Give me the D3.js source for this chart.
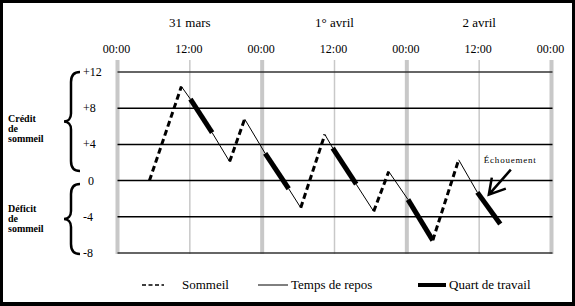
<!DOCTYPE html>
<html>
<head>
<meta charset="utf-8">
<script src="https://cdn.jsdelivr.net/npm/d3@7"></script>
<style>
  body { margin: 0; background: #fff; }
  text { font-family: "Liberation Serif", "Times New Roman", "DejaVu Serif", serif; }
</style>
</head>
<body>
<div id="chart"></div>
<script>
// hours since 31 mars 00:00 and sleep credit at each turning point
const times  = [5.3, 10.6, 12.1, 15.7, 18.6, 21.1, 24.5, 28.4, 30.4, 34.4, 35.7, 39.6, 42.5, 45.0, 48.2, 52.3, 56.6, 59.7, 63.5];
const credit = [0, 10.4, 9.0, 5.3, 2.1, 6.8, 3.0, -0.9, -3.0, 5.1, 3.6, -0.4, -3.4, 1.0, -2.1, -6.6, 2.3, -1.3, -4.8];
// phase of the segment starting at each point
const phases = ["sommeil", "repos", "travail", "repos", "sommeil", "repos", "travail", "repos", "sommeil",
                "repos", "travail", "repos", "sommeil", "repos", "travail", "sommeil", "repos", "travail"];

const hourTicks = [0, 12, 24, 36, 48, 60, 72];
const hourLabels = ["00:00", "12:00", "00:00", "12:00", "00:00", "12:00", "00:00"];
const dayTicks = [12, 36, 60];
const dayLabels = ["31 mars", "1° avril", "2 avril"];
const yTicks = [12, 8, 4, 0, -4, -8];
const yLabels = ["+12", "+8", "+4", "0", "-4", "-8"];

const legendKeys = ["sommeil", "repos", "travail"];
const legendLabels = ["Sommeil", "Temps de repos", "Quart de travail"];

const failure = {label: "Échouement", t: 61.6, v: -1.55};

const width = 575, height = 306;
const serif = "'Liberation Serif', 'Times New Roman', serif";

const x = d3.scaleLinear().domain([0, 72]).range([117.5, 551.5]);
const y = d3.scaleLinear().domain([-8, 12]).range([253, 72]);

const style = {
    sommeil: {w: 3, dash: "6,3.5"},
    repos:   {w: 1, dash: null},
    travail: {w: 5, dash: null}
};

const svg = d3.select("#chart").append("svg")
    .attr("width", width).attr("height", height)
    .attr("font-family", serif);

svg.append("rect").attr("x", 1.5).attr("y", 1.5)
    .attr("width", width - 3).attr("height", height - 4)
    .attr("fill", "#fff").attr("stroke", "#000").attr("stroke-width", 3);
svg.append("rect").attr("x", 0).attr("y", 302).attr("width", width).attr("height", 4).attr("fill", "#000");

// vertical gray lines
svg.append("g").selectAll("line")
    .data(hourTicks).enter().append("line")
    .attr("x1", d => x(d)).attr("x2", d => x(d))
    .attr("y1", 60).attr("y2", 254)
    .attr("stroke", "#c8c8c8")
    .attr("stroke-width", d => d % 24 === 0 ? 4 : 1.5);

// horizontal lines
svg.append("g").selectAll("line")
    .data(yTicks).enter().append("line")
    .attr("x1", x(0)).attr("x2", x(72) + 1)
    .attr("y1", d => y(d)).attr("y2", d => y(d))
    .attr("stroke", d => d === 12 || d === -8 ? "#333" : "#000")
    .attr("stroke-width", 1.5);

// top labels
svg.append("g").selectAll("text")
    .data(dayTicks).enter().append("text")
    .attr("x", d => x(d)).attr("y", 27)
    .attr("text-anchor", "middle").attr("font-size", 13)
    .text((d, i) => dayLabels[i]);

svg.append("g").selectAll("text")
    .data(hourTicks).enter().append("text")
    .attr("x", d => x(d) - 1).attr("y", 53)
    .attr("text-anchor", "middle").attr("font-size", 12)
    .text((d, i) => hourLabels[i]);

// y labels
svg.append("g").selectAll("text")
    .data(yTicks).enter().append("text")
    .attr("x", d => d === 0 ? 91 : 83)
    .attr("y", d => y(d) + 4)
    .attr("text-anchor", d => d === 0 ? "middle" : "start")
    .attr("font-size", 12)
    .text((d, i) => yLabels[i]);

// braces
function brace(y0, y1) {
    const ym = (y0 + y1) / 2;
    return `M80,${y0} C73,${y0} 71,${y0 + 4} 71,${y0 + 10} L71,${ym - 8} C71,${ym - 3} 68,${ym} 64,${ym}`
         + ` C68,${ym} 71,${ym + 3} 71,${ym + 8} L71,${y1 - 10} C71,${y1 - 4} 73,${y1} 80,${y1}`;
}
svg.append("path").attr("d", brace(72, 171))
    .attr("fill", "none").attr("stroke", "#000").attr("stroke-width", 2.5);
svg.append("path").attr("d", brace(184, 254))
    .attr("fill", "none").attr("stroke", "#000").attr("stroke-width", 2.5);

const sideText = [["Crédit", "de", "sommeil"], ["Déficit", "de", "sommeil"]];
[122, 212].forEach(function(base, k) {
    svg.append("g").selectAll("text")
        .data(sideText[k]).enter().append("text")
        .attr("x", 8).attr("y", (d, i) => base + i * 10)
        .attr("font-size", 10).attr("font-weight", "bold")
        .text(d => d);
});

// data segments
const segs = phases.map((p, i) => ({p: p, t0: times[i], v0: credit[i], t1: times[i + 1], v1: credit[i + 1]}));

svg.append("g").selectAll("line")
    .data(segs).enter().append("line")
    .attr("x1", d => x(d.t0)).attr("y1", d => y(d.v0))
    .attr("x2", d => x(d.t1)).attr("y2", d => y(d.v1))
    .attr("stroke", "#000")
    .attr("stroke-width", d => style[d.p].w)
    .attr("stroke-dasharray", d => style[d.p].dash);

// annotation
const ax = x(failure.t), ay = y(failure.v);
svg.append("path")
    .attr("d", `M${ax + 22},${ay - 25} L${ax},${ay} M${ax + 3},${ay - 17} L${ax},${ay} L${ax + 17},${ay - 6}`)
    .attr("fill", "none").attr("stroke", "#000").attr("stroke-width", 2.5);
svg.append("text")
    .attr("x", ax - 5).attr("y", ay - 32)
    .attr("font-size", 9).attr("textLength", 52)
    .text(failure.label);

// legend
const legendX = [142, 258, 418];
const legendW = [22, 30, 28];
const lg = svg.append("g").selectAll("g")
    .data(legendKeys).enter().append("g");
lg.append("line")
    .attr("x1", (d, i) => legendX[i]).attr("x2", (d, i) => legendX[i] + legendW[i])
    .attr("y1", 285).attr("y2", 285)
    .attr("stroke", "#000")
    .attr("stroke-width", d => d === "travail" ? 4 : (d === "sommeil" ? 1.5 : 1))
    .attr("stroke-dasharray", d => d === "sommeil" ? "4,2.5" : null);
lg.append("text")
    .attr("x", (d, i) => legendX[i] + legendW[i] + (i === 0 ? 18 : 3))
    .attr("y", 289)
    .attr("font-size", 13)
    .text((d, i) => legendLabels[i]);
</script>
</body>
</html>
